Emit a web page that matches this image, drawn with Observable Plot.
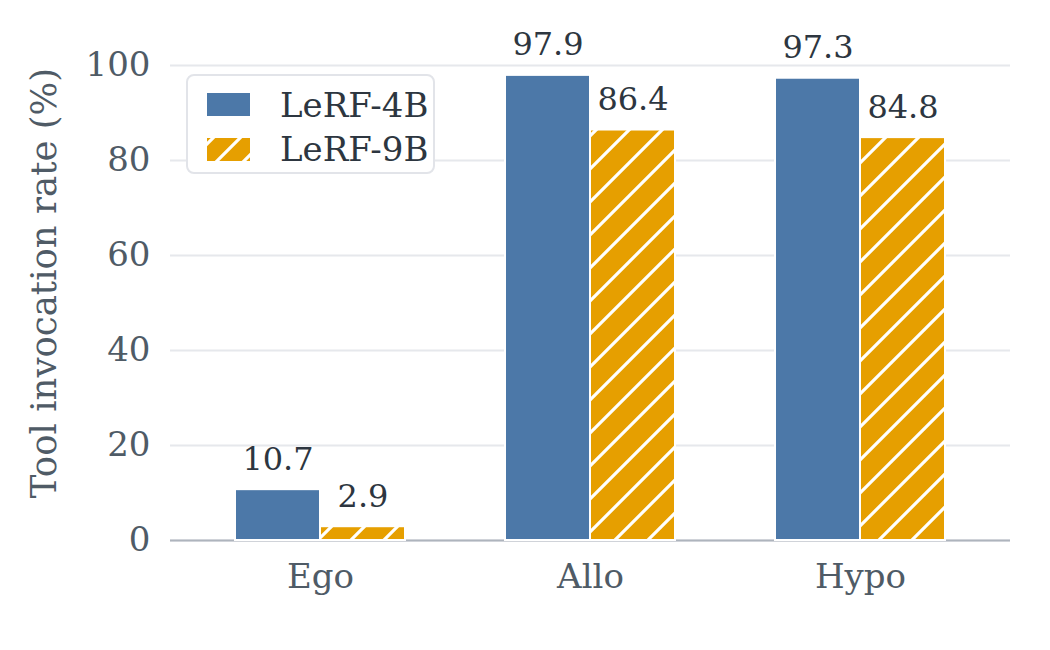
<!DOCTYPE html>
<html><head><meta charset="utf-8">
<script src="https://cdn.jsdelivr.net/npm/d3@7"></script>
<script src="https://cdn.jsdelivr.net/npm/@observablehq/plot@0.6"></script>
<style>
body{margin:0;background:#fff;}
#wrap{position:relative;width:1050px;height:650px;font-family:"DejaVu Serif",serif;}
#legend{position:absolute;left:0;top:0;pointer-events:none;}
</style></head><body><div id="wrap"></div>
<script>
const categories = ["Ego", "Allo", "Hypo"];
const series = ["LeRF-4B", "LeRF-9B"];
const lerf4B = [10.7, 97.9, 97.3];
const lerf9B = [2.9, 86.4, 84.8];
const yTicks = [0, 20, 40, 60, 80, 100];
const yDomain = [0, 108.4];
const colors = ["#4C78A8", "#E69F00"];
const yLabel = "Tool invocation rate (%)";

const rows4B = categories.map((c, i) => ({cat: c, series: series[0], value: lerf4B[i]}));
const rows9B = categories.map((c, i) => ({cat: c, series: series[1], value: lerf9B[i]}));

function hatchDefs(id, size, color) {
  return () => {
    const d = d3.create("svg:defs");
    const p = d.append("pattern").attr("id", id).attr("patternUnits", "userSpaceOnUse")
      .attr("width", size).attr("height", size);
    p.append("rect").attr("width", size).attr("height", size).attr("fill", color);
    p.append("path")
      .attr("d", `M${-size/4},${size/4}L${size/4},${-size/4}M0,${size}L${size},0M${size*3/4},${size*5/4}L${size*5/4},${size*3/4}`)
      .attr("stroke", "#fff").attr("stroke-width", 3.2);
    return d.node();
  };
}

const halfBand = 85;
const textColor = "#2d3640";
const tickColor = "#4f5b66";

const chart = Plot.plot({
  width: 1050,
  height: 650,
  marginLeft: 170,
  marginRight: 40,
  marginTop: 25,
  marginBottom: 110,
  style: {fontFamily: "'DejaVu Serif', serif", fontSize: "32px", background: "#fff"},
  x: {type: "band", domain: categories, paddingInner: 0.37, paddingOuter: 0.24},
  y: {domain: yDomain},
  marks: [
    hatchDefs("hatch", 33, colors[1]),
    Plot.gridY(yTicks, {stroke: "#e6e8ec", strokeOpacity: 1, strokeWidth: 2}),
    Plot.ruleY([0], {stroke: "#aeb4bd", strokeWidth: 2}),
    Plot.barY(rows4B, {x: "cat", y: "value", fill: colors[0], stroke: "#fff", strokeWidth: 2, insetRight: halfBand}),
    Plot.barY(rows9B, {x: "cat", y: "value", fill: "url(#hatch)", stroke: "#fff", strokeWidth: 2, insetLeft: halfBand}),
    Plot.text(rows4B, {x: "cat", y: "value", text: d => d.value.toFixed(1), dx: -halfBand / 2, dy: -20, lineAnchor: "bottom", fill: textColor, fontSize: 32}),
    Plot.text(rows9B, {x: "cat", y: "value", text: d => d.value.toFixed(1), dx: halfBand / 2, dy: -20, lineAnchor: "bottom", fill: textColor, fontSize: 32}),
    Plot.axisY(yTicks, {tickSize: 0, tickPadding: 20, color: tickColor, label: null, fontSize: 34}),
    Plot.axisY([], {tickSize: 0, color: tickColor, label: yLabel, labelAnchor: "center", labelArrow: "none", labelOffset: 140, fontSize: 35.5}),
    Plot.axisX({tickSize: 0, tickPadding: 23, color: tickColor, label: null, fontSize: 34})
  ]
});

const wrap = document.getElementById("wrap");
wrap.appendChild(chart);

// Legend overlay
const leg = d3.select(wrap).append("svg").attr("id", "legend").attr("width", 1050).attr("height", 650);
leg.append(hatchDefs("hatchLeg", 27, colors[1]));
leg.append("rect").attr("x", 187).attr("y", 75).attr("width", 247).attr("height", 98).attr("rx", 7)
  .attr("fill", "#fff").attr("stroke", "#e2e4e9").attr("stroke-width", 2);
const swatchFill = [colors[0], "url(#hatchLeg)"];
series.forEach((s, i) => {
  leg.append("rect").attr("x", 207).attr("y", 93 + i * 45).attr("width", 43).attr("height", 23).attr("fill", swatchFill[i]);
  leg.append("text").attr("x", 280).attr("y", 117 + i * 44).attr("font-family", "'DejaVu Serif', serif")
    .attr("font-size", 34).attr("fill", textColor).text(s);
});
</script>
</body></html>
